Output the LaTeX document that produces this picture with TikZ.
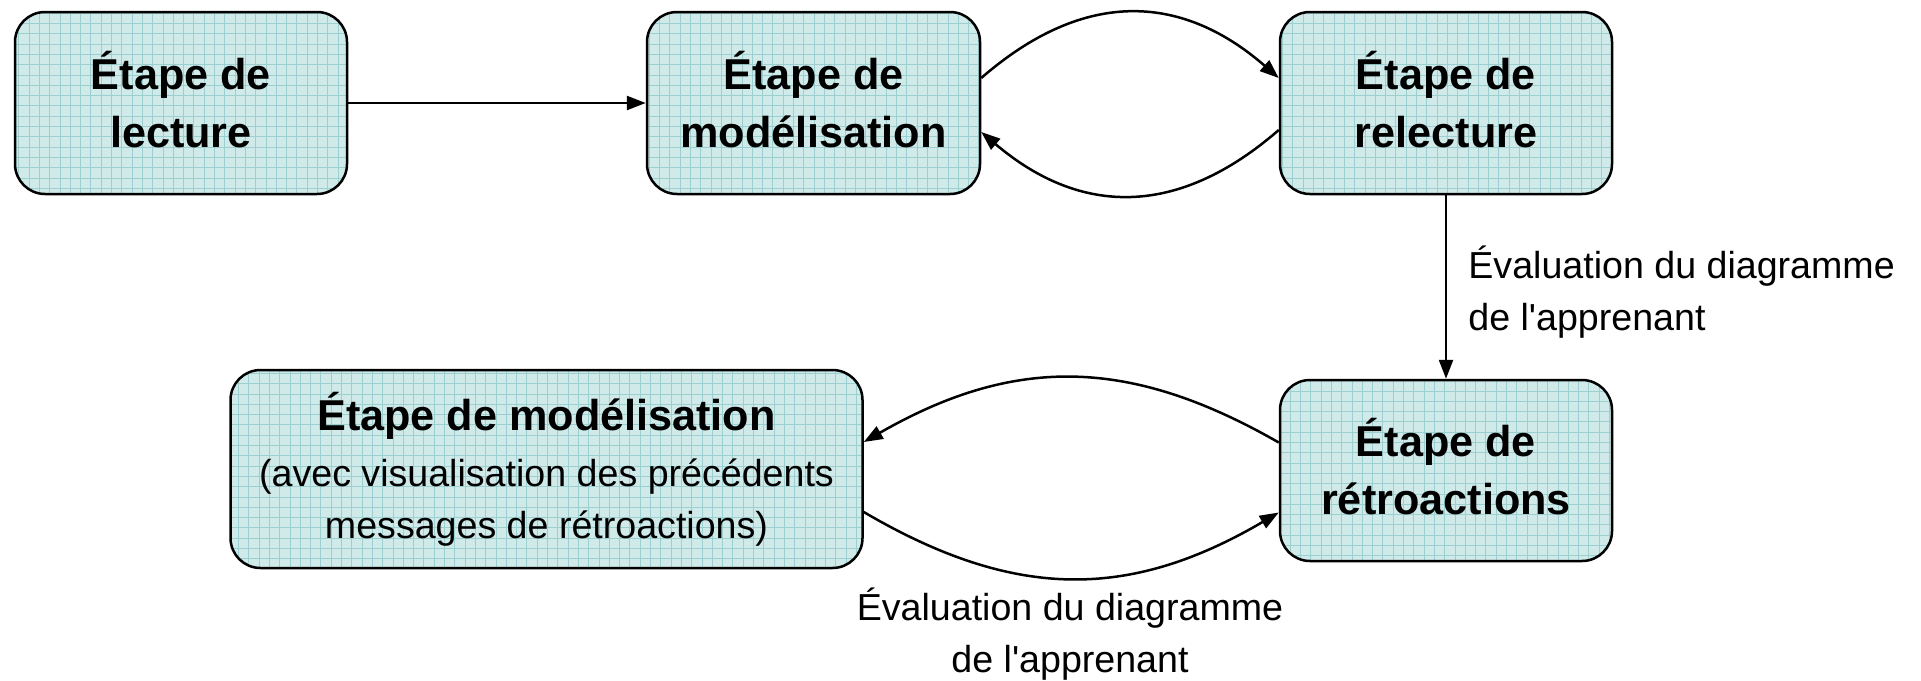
\documentclass[tikz,border=0pt]{standalone}
\usepackage{fontspec}
\setmainfont{Liberation Sans}[Ligatures=TeXOff]
\usetikzlibrary{arrows.meta,calc}
\definecolor{cellfill}{RGB}{208,234,234}
\definecolor{cellgrid}{RGB}{156,208,208}
\tikzset{
  stage/.style={rounded corners=15pt, draw=black, line width=1.25pt, fill=cellfill,
    inner sep=0pt, align=center,
    font=\bfseries\fontsize{21.6pt}{29pt}\selectfont,
    path picture={\draw[cellgrid, line width=0.5pt, step=5.15pt]
      (path picture bounding box.south west) grid (path picture bounding box.north east);}},
  conn/.style={line width=1.25pt, -{Triangle[length=9.5pt,width=7pt]}},
  lab/.style={inner sep=0pt, font=\fontsize{18.8pt}{26pt}\selectfont}
}
\begin{document}
\begin{tikzpicture}[x=0.5pt,y=-0.5pt]
\useasboundingbox (0,0) rectangle (1921,680);
\node[stage, text depth=4pt, minimum width=166pt, minimum height=91pt] (lec) at (181,103) {Étape de\\lecture};
\node[stage, text depth=4pt, minimum width=166.5pt, minimum height=91pt] (m1) at (813.5,103) {Étape de\\modélisation};
\node[stage, text depth=4pt, minimum width=166pt, minimum height=91pt] (rel) at (1446,103) {Étape de\\relecture};
\node[stage, text depth=4pt, minimum width=166pt, minimum height=90.5pt] (ret) at (1446,470.5) {Étape de\\rétroactions};
\node[stage, minimum width=316pt, minimum height=99pt, font=\fontsize{18.8pt}{26pt}\selectfont] (m2) at (546.5,469)
  {{\bfseries\fontsize{21.6pt}{26pt}\selectfont Étape de modélisation}\\[2pt]
   (avec visualisation des précédents\\messages de rétroactions)};
\draw[conn] (lec.east) -- (m1.west);
\draw[conn] ($(m1.east)+(0,-25)$) .. controls +(100,-87) and +(-100,-87) .. ($(rel.west)+(0,-25)$);
\draw[conn] ($(rel.west)+(0,27)$) .. controls +(-100,87) and +(100,85) .. ($(m1.east)+(0,29)$);
\draw[conn] (rel.south) -- (ret.north);
\draw[conn] ($(ret.west)+(0,-28)$) .. controls +(-150,-86) and +(150,-86) .. ($(m2.east)+(0,-27)$);
\draw[conn] ($(m2.east)+(0,43)$) .. controls +(150,88) and +(-150,88) .. ($(ret.west)+(0,42)$);
\node[lab, align=left, anchor=base west] (l1) at (1468,330) {Évaluation du diagramme\\de l'apprenant};
\node[lab, align=center, anchor=base] (l2) at (1070,672) {Évaluation du diagramme\\de l'apprenant};
\end{tikzpicture}
\end{document}
